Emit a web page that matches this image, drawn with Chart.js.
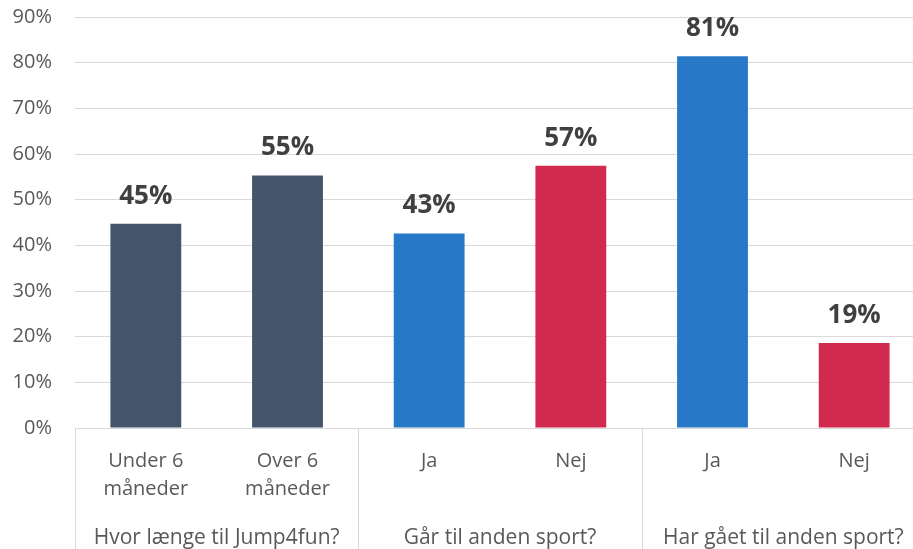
<!DOCTYPE html>
<html>
<head>
<meta charset="utf-8">
<script src="https://cdn.jsdelivr.net/npm/chart.js@4/dist/chart.umd.min.js"></script>
<style>
  html, body { margin: 0; padding: 0; background: #ffffff; overflow: hidden; }
  #wrap { width: 926px; height: 549px; }
</style>
</head>
<body>
<div id="wrap"><canvas id="c" width="926" height="549"></canvas></div>
<script>
// ---- data ----
const categories = [["Under 6", "måneder"], ["Over 6", "måneder"], "Ja", "Nej", "Ja", "Nej"];
const groups = ["Hvor længe til Jump4fun?", "Går til anden sport?", "Har gået til anden sport?"];
const values = [44.7, 55.3, 42.6, 57.4, 81.4, 18.6];
const yTicks = [0, 10, 20, 30, 40, 50, 60, 70, 80, 90];

// ---- style ----
const barColors = ["#44546A", "#44546A", "#2878C8", "#D2294F", "#2878C8", "#D2294F"];
const FONT = "'Open Sans', 'DejaVu Sans', sans-serif";
const GRID = "#D9D9D9";

const groupSeparators = {
  id: "groupSeparators",
  afterDraw(chart) {
    const x = chart.scales.x;
    const ctx = chart.ctx;
    const n = x.ticks.length;
    const bounds = [x.left];
    for (let i = 1; i < n; i += 2) {
      if (i + 1 < n) bounds.push((x.getPixelForTick(i) + x.getPixelForTick(i + 1)) / 2);
    }
    bounds.push(x.right);
    ctx.save();
    ctx.strokeStyle = GRID;
    ctx.lineWidth = 1;
    bounds.forEach(b => {
      const px = Math.round(b) + 0.5;
      ctx.beginPath();
      ctx.moveTo(px, chart.chartArea.bottom);
      ctx.lineTo(px, chart.height);
      ctx.stroke();
    });
    ctx.restore();
  }
};

const valueLabels = {
  id: "valueLabels",
  afterDatasetsDraw(chart) {
    const ctx = chart.ctx;
    const meta = chart.getDatasetMeta(0);
    ctx.save();
    ctx.font = "bold 26px " + FONT;
    ctx.fillStyle = "#404040";
    ctx.textAlign = "center";
    ctx.textBaseline = "alphabetic";
    meta.data.forEach((el, i) => {
      ctx.fillText(Math.round(values[i]) + "%", el.x, el.y - 20);
    });
    ctx.restore();
  }
};

new Chart(document.getElementById("c"), {
  type: "bar",
  data: {
    labels: categories,
    datasets: [{
      data: values,
      backgroundColor: barColors,
      barPercentage: 0.5,
      categoryPercentage: 1.0,
      borderWidth: 0
    }]
  },
  options: {
    responsive: false,
    devicePixelRatio: 1,
    animation: false,
    layout: { padding: { top: 17, left: 0, right: 1, bottom: 0 } },
    plugins: { legend: { display: false }, tooltip: { enabled: false } },
    scales: {
      y: {
        min: 0,
        max: 90,
        afterFit(s) { s.width = 75; },
        afterBuildTicks(s) { s.ticks = yTicks.map(v => ({ value: v })); },
        ticks: {
          padding: 0,
          color: "#595959",
          font: { family: FONT, size: 20 },
          callback: v => v + "%"
        },
        grid: { color: GRID, lineWidth: 1, drawTicks: true, tickLength: 23, tickColor: "rgba(0,0,0,0)" },
        border: { display: false }
      },
      x: {
        afterFit(s) { s.height = 90; },
        ticks: {
          padding: 19,
          color: "#595959",
          maxRotation: 0,
          autoSkip: false,
          font: { family: FONT, size: 20, lineHeight: 1.4 }
        },
        grid: { display: false, drawTicks: false },
        border: { display: true, color: GRID, width: 1 }
      },
      x2: {
        type: "category",
        position: "bottom",
        labels: groups,
        offset: true,
        afterFit(s) { s.height = 31; },
        ticks: {
          padding: 5,
          color: "#595959",
          maxRotation: 0,
          autoSkip: false,
          font: { family: FONT, size: 21, lineHeight: 1.4 }
        },
        grid: { display: false, drawTicks: false },
        border: { display: false }
      }
    }
  },
  plugins: [groupSeparators, valueLabels]
});
</script>
</body>
</html>
